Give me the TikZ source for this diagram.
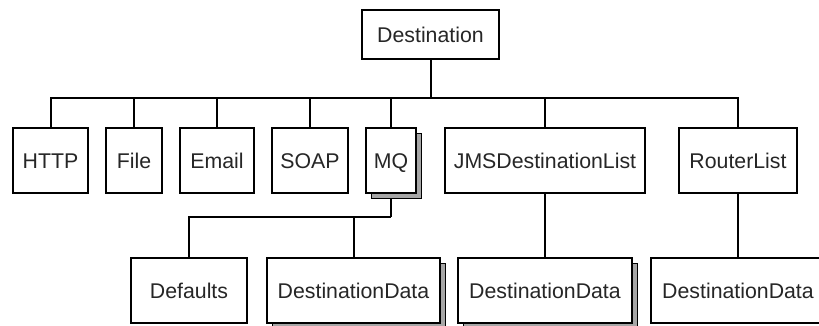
\documentclass[tikz,border=0pt]{standalone}
\usepackage{fontspec}
\setmainfont{Liberation Sans}
\usetikzlibrary{shadows,backgrounds}
\begin{document}
\begin{tikzpicture}[x=1pt,y=-1pt,
  box/.style={draw=black, fill=white, line width=1.8pt, inner sep=0pt,
    font=\fontsize{21.3}{25}\selectfont, text=black!85,
    text height=15pt, text depth=0pt},
  shbox/.style={box, copy shadow={shadow xshift=5.5pt, shadow yshift=-5.5pt,
    fill=black!35, draw=black, line width=1.4pt}},
  conn/.style={line width=2pt, black}]
\useasboundingbox (0,0) rectangle (819,325);
\node[box, minimum width=137pt, minimum height=49pt] (dest) at (430.5,34.5) {Destination};
\node[box, minimum width=75pt, minimum height=65pt] (http) at (50.5,160.5) {HTTP};
\node[box, minimum width=56pt, minimum height=65pt] (file) at (134,160.5) {File};
\node[box, minimum width=74pt, minimum height=65pt] (email) at (217,160.5) {Email};
\node[box, minimum width=76pt, minimum height=65pt] (soap) at (310,160.5) {SOAP};
\node[shbox, minimum width=50pt, minimum height=65pt] (mq) at (391,160.5) {MQ};
\node[box, minimum width=200pt, minimum height=65pt] (jms) at (545,160.5) {JMSDestinationList};
\node[box, minimum width=118pt, minimum height=65pt] (router) at (738,160.5) {RouterList};
\node[box, minimum width=116pt, minimum height=65pt] (defaults) at (189,290.5) {Defaults};
\node[shbox, minimum width=173pt, minimum height=65pt] (dd1) at (353.5,290.5) {DestinationData};
\node[shbox, minimum width=174pt, minimum height=65pt] (dd2) at (545,290.5) {DestinationData};
\node[box, minimum width=174pt, minimum height=65pt] (dd3) at (738,290.5) {DestinationData};
\coordinate (bus) at (430.5,98);
\coordinate (mqbus) at (391,217);
\begin{pgfonlayer}{background}
\draw[conn] (dest.south) -- (bus);
\draw[conn] (http.north) |- (bus);
\draw[conn] (file.north) |- (bus);
\draw[conn] (email.north) |- (bus);
\draw[conn] (soap.north) |- (bus);
\draw[conn] (mq.north) |- (bus);
\draw[conn] (jms.north) |- (bus);
\draw[conn] (router.north) |- (bus);
\draw[conn] (mq.south) -- (mqbus);
\draw[conn] (defaults.north) |- (mqbus);
\draw[conn] (dd1.north) |- (mqbus);
\draw[conn] (jms.south) -- (dd2.north);
\draw[conn] (router.south) -- (dd3.north);
\end{pgfonlayer}
\end{tikzpicture}
\end{document}
